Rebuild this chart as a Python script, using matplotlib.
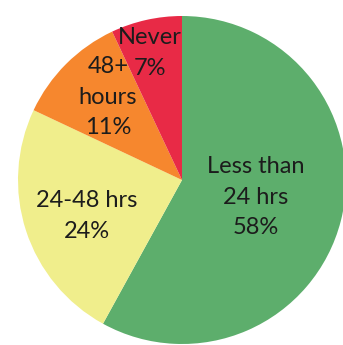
import matplotlib.pyplot as plt

# slice data, clockwise from 12 o'clock
labels = ["Less than\n24 hrs\n58%", "24-48 hrs\n24%", "48+\nhours\n11%", "Never\n7%"]
shares = [58, 24, 11, 7]
colors = ["#5dae6c", "#f0ee8c", "#f6872e", "#e82a46"]

# label centres in pixel coords (x, y from top)
label_pos = [(256, 197), (87, 216), (108, 97), (150, 53)]
line_pitch = 30.5

fig = plt.figure(figsize=(3.43, 3.45), dpi=100)
ax = fig.add_axes([0, 0, 1, 1])

ax.pie(shares, colors=colors, startangle=90, counterclock=False,
       center=(182, 345 - 180), radius=164, frame=True,
       wedgeprops=dict(linewidth=0))
ax.set_xlim(0, 343)
ax.set_ylim(0, 345)
ax.set_aspect("equal")
ax.axis("off")

# one text per line so the stacked labels don't collide near the top
for text, (x, y) in zip(labels, label_pos):
    lines = text.split("\n")
    top = y - line_pitch * (len(lines) - 1) / 2
    for i, line in enumerate(lines):
        ax.text(x, 345 - (top + i * line_pitch), line, ha="center", va="center",
                fontsize=17, family="Lato", color="#1c1c1c")

fig.savefig("out.png", dpi=100)
